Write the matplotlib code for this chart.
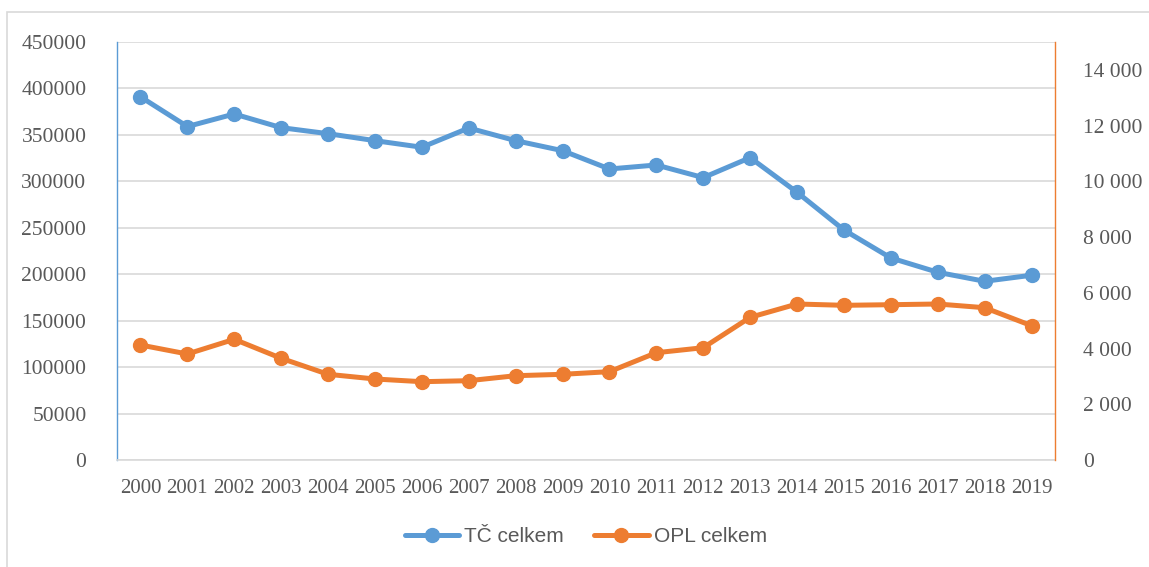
import matplotlib.pyplot as plt
from matplotlib.patches import Rectangle
from matplotlib.ticker import FuncFormatter

# data
years = [str(y) for y in range(2000, 2020)]
tc_celkem = [391000, 359000, 372500, 357800, 351300, 343800, 336700, 357400, 343800, 333000,
             313300, 317600, 304000, 325500, 288200, 247600, 217500, 202100, 192400, 198900]
opl_celkem = [4127, 3804, 4331, 3650, 3075, 2907, 2810, 2846, 3025, 3075,
              3170, 3850, 4030, 5120, 5598, 5551, 5573, 5598, 5465, 4820]

blue = '#5B9BD5'
orange = '#ED7D31'
grid_c = '#D9D9D9'
text_c = '#595959'

fig = plt.figure(figsize=(11.49, 5.67), dpi=100)
# outer chart border
fig.patches.append(Rectangle((7 / 1149, -0.1), 1.2, (567 - 12) / 567 + 0.1,
                             transform=fig.transFigure, fill=False,
                             edgecolor=grid_c, linewidth=1.2))

ax = fig.add_axes([117 / 1149, 107 / 567, 938 / 1149, 418 / 567])
ax2 = ax.twinx()

x = list(range(len(years)))
l1, = ax.plot(x, tc_celkem, color=blue, linewidth=3.6, marker='o', markersize=10,
              solid_capstyle='round', label='TČ celkem', zorder=3)
l2, = ax2.plot(x, opl_celkem, color=orange, linewidth=3.6, marker='o', markersize=10,
               solid_capstyle='round', label='OPL celkem', zorder=3)

ax.set_xlim(-0.5, len(years) - 0.5)
ax.set_ylim(0, 450000)
ax.set_yticks(range(0, 450001, 50000))
ax2.set_ylim(0, 15000)
ax2.set_yticks(range(0, 14001, 2000))
ax2.yaxis.set_major_formatter(FuncFormatter(lambda v, p: f'{int(v):,}'.replace(',', ' ')))

ax.set_xticks(x)
ax.set_xticklabels(years)
ax.grid(axis='y', color=grid_c, linewidth=1.2)
ax.set_axisbelow(True)

serif = 'Liberation Serif'
ax.tick_params(axis='y', length=0, pad=22, labelsize=15.5, labelcolor=text_c)
ax.tick_params(axis='x', length=0, pad=14, labelsize=15, labelcolor=text_c)
ax2.tick_params(axis='y', length=0, pad=20, labelsize=15.5, labelcolor=text_c)
for lab in ax.get_xticklabels() + ax.get_yticklabels() + ax2.get_yticklabels():
    lab.set_fontfamily(serif)

for a in (ax, ax2):
    for s in a.spines.values():
        s.set_visible(False)
ax.spines['left'].set_visible(True)
ax.spines['left'].set_color(blue)
ax.spines['left'].set_linewidth(1.0)
ax.spines['bottom'].set_visible(True)
ax.spines['bottom'].set_color(grid_c)
ax.spines['bottom'].set_linewidth(1.2)
ax2.spines['right'].set_visible(True)
ax2.spines['right'].set_color(orange)
ax2.spines['right'].set_linewidth(1.0)

leg = fig.legend(handles=[l1, l2], loc='center', bbox_to_anchor=(0.51, 0.053), ncol=2,
                 frameon=False, handlelength=2.6, handletextpad=0.25, columnspacing=1.45,
                 prop={'family': 'Liberation Sans', 'size': 15})
for t in leg.get_texts():
    t.set_color(text_c)

fig.savefig('out.png', dpi=100)
